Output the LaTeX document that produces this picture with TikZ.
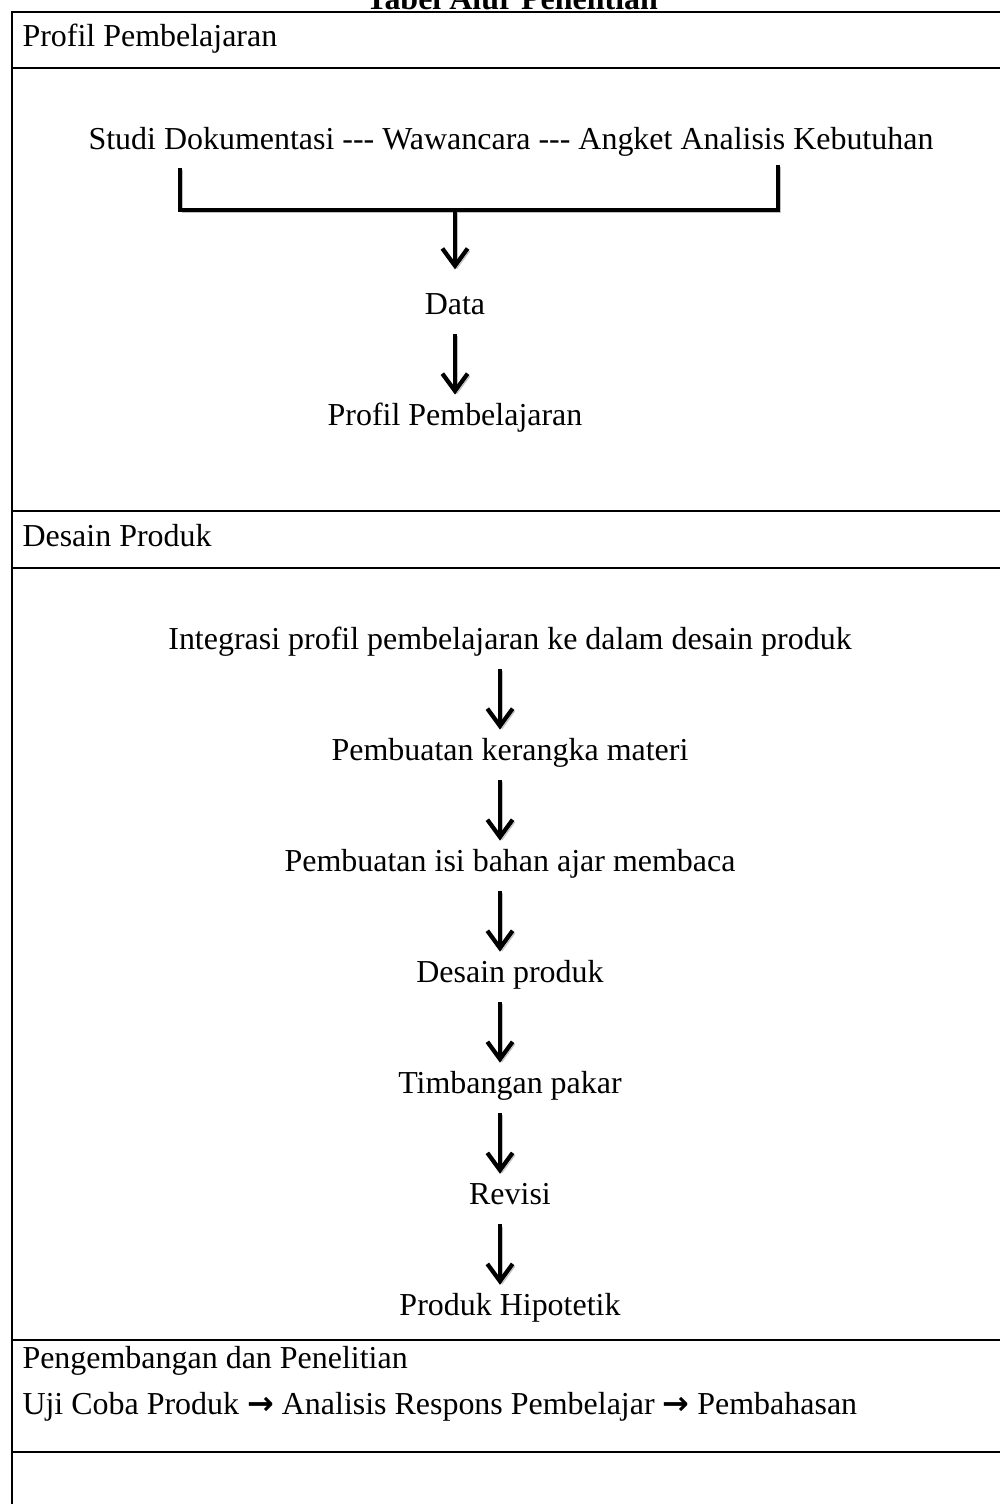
\documentclass[tikz,border=0pt]{standalone}
\usepackage{fontspec}
\setmainfont{Liberation Serif}
\newfontfamily\arrowfont{DejaVu Sans}
\usepackage{tikz}
\usetikzlibrary{arrows.meta, positioning}

\begin{document}
\begin{tikzpicture}[
    x=0.3755pt, y=-0.3755pt,
    node distance=30.3pt,
    txt/.style={inner sep=0pt, text height=8pt, text depth=3pt, font=\fontsize{12}{14}\selectfont},
    head/.style={txt, anchor=west},
    rule/.style={line width=0.8pt},
    shade/.style={preaction={draw=black!25, transform canvas={shift={(0.8pt,-0.9pt)}}}},
    arrow/.style={-{Straight Barb[length=6.5pt, width=9.5pt]}, line width=1.6pt, shorten <=4pt, shorten >=3.5pt, shade},
    bracket/.style={line width=1.5pt, shade}
]
    \useasboundingbox (0,0) rectangle (999,1504);

    \draw[rule] (12,1520) -- (12,12) -- (1010,12);
    \draw[rule] (12,68) -- (1010,68);
    \draw[rule] (12,511) -- (1010,511);
    \draw[rule] (12,568) -- (1010,568);
    \draw[rule] (12,1340) -- (1010,1340);
    \draw[rule] (12,1452) -- (1010,1452);

    \node[txt, font=\fontsize{12}{14}\selectfont\bfseries, anchor=base] (title) at (512,9) {Tabel Alur Penelitian};

    \node[head] (profilhead) at (22,40) {Profil Pembelajaran};
    \node[txt] (sumber) at (511,143) {Studi Dokumentasi -\kern0pt-\kern0pt- Wawancara -\kern0pt-\kern0pt- Angket Analisis Kebutuhan};
    \coordinate (bl) at (180,168);
    \coordinate (br) at (778,165);
    \coordinate (join) at (455,210);
    \node[txt] (data) at (455,308) {Data};
    \node[txt, below=of data] (profil) {Profil Pembelajaran};

    \draw[bracket] (bl) |- (join) -| (br);
    \draw[arrow, shorten <=0pt, shorten >=8.8pt] (join) -- (data);
    \draw[arrow] (data) -- (profil);

    \node[head] (desainhead) at (22,540) {Desain Produk};
    \coordinate (axis) at (500,600);
    \node[txt] (integrasi) at (510,643) {Integrasi profil pembelajaran ke dalam desain produk};
    \node[txt, below=of integrasi] (kerangka) {Pembuatan kerangka materi};
    \node[txt, below=of kerangka] (isi) {Pembuatan isi bahan ajar membaca};
    \node[txt, below=of isi] (desain) {Desain produk};
    \node[txt, below=of desain] (pakar) {Timbangan pakar};
    \node[txt, below=of pakar] (revisi) {Revisi};
    \node[txt, below=of revisi] (hipotetik) {Produk Hipotetik};

    \draw[arrow] (integrasi.south -| axis) -- (kerangka.north -| axis);
    \draw[arrow] (kerangka.south -| axis) -- (isi.north -| axis);
    \draw[arrow] (isi.south -| axis) -- (desain.north -| axis);
    \draw[arrow] (desain.south -| axis) -- (pakar.north -| axis);
    \draw[arrow] (pakar.south -| axis) -- (revisi.north -| axis);
    \draw[arrow] (revisi.south -| axis) -- (hipotetik.north -| axis);

    \node[head] (penelitianhead) at (22,1362) {Pengembangan dan Penelitian};
    \node[head] (uji) at (22,1408) {Uji Coba Produk {\arrowfont\bfseries →} Analisis Respons Pembelajar {\arrowfont\bfseries →} Pembahasan};
\end{tikzpicture}
\end{document}
